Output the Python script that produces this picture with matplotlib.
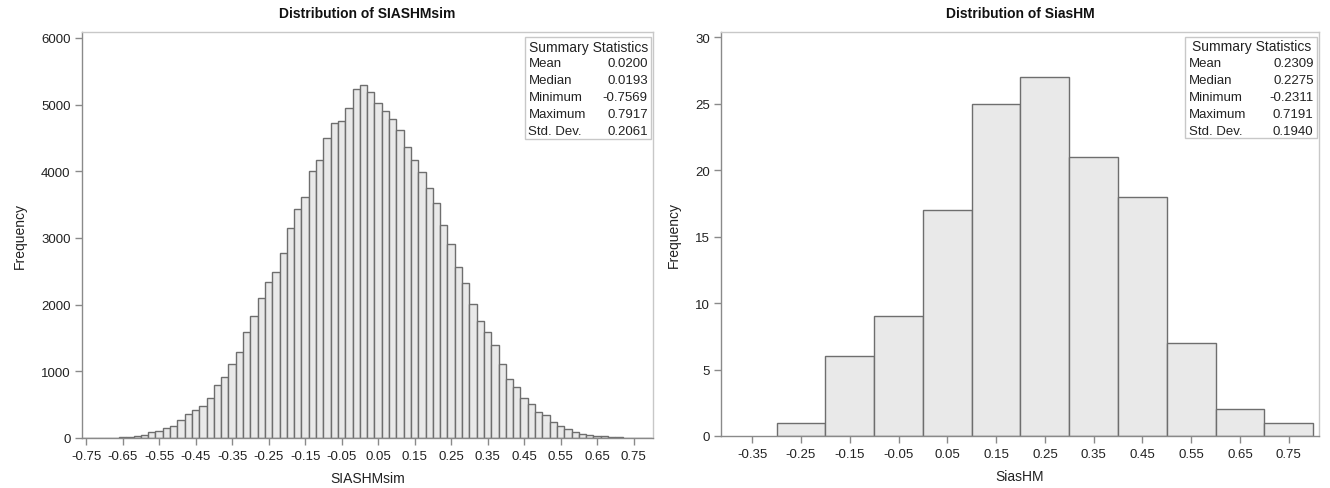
"""
Two SAS-style histograms: simulated SIASHMsim vs. observed SiasHM,
each with a summary-statistics inset.
"""

import matplotlib
matplotlib.use("Agg")
import matplotlib.pyplot as plt
import matplotlib.patches as mpatches
import numpy as np

plt.rcParams["font.family"] = ["Liberation Sans", "DejaVu Sans"]

# --- left panel: simulated distribution, bin width 0.02 ---
SIM_EDGES = np.round(np.arange(-0.76, 0.8001, 0.02), 2)
SIM_COUNTS = [
    1, 1, 2, 3, 5, 10, 20, 30, 45, 85,
    105, 150, 180, 265, 360, 420, 480, 595, 790, 920,
    1105, 1285, 1585, 1835, 2095, 2345, 2490, 2775, 3155, 3440,
    3615, 4010, 4170, 4500, 4725, 4755, 4945, 5235,
    5300, 5185, 5025, 4900, 4785, 4625, 4360, 4175, 3990, 3745,
    3520, 3190, 2905, 2570, 2330, 2015, 1760, 1590, 1395, 1110,
    885, 770, 605, 515, 395, 345, 245, 180, 135, 85,
    60, 50, 35, 25, 20, 10, 5, 3, 1, 1,
]
SIM_TICKS = np.round(np.arange(-0.75, 0.7501, 0.1), 2)
SIM_STATS = [("Mean", "0.0200"), ("Median", "0.0193"), ("Minimum", "-0.7569"),
             ("Maximum", "0.7917"), ("Std. Dev.", "0.2061")]

# --- right panel: observed distribution, bin width 0.1 ---
OBS_EDGES = np.round(np.arange(-0.3, 0.8001, 0.1), 2)
OBS_COUNTS = [1, 6, 9, 17, 25, 27, 21, 18, 7, 2, 1]
OBS_TICKS = np.round(np.arange(-0.35, 0.7501, 0.1), 2)
OBS_STATS = [("Mean", "0.2309"), ("Median", "0.2275"), ("Minimum", "-0.2311"),
             ("Maximum", "0.7191"), ("Std. Dev.", "0.1940")]

FILL = "#e9e9e9"
EDGE = "#6e6e6e"
AXIS = "#8a8a8a"
WALL = "#c8c8c8"
TEXT = "#222222"
W, H = 1330, 489


def draw_hist(ax, edges, counts, ticks, xlim, ylim, yticks, title, xlabel, stats):
    edges = np.asarray(edges)
    centers = (edges[:-1] + edges[1:]) / 2
    width = edges[1] - edges[0]
    ax.bar(centers, counts, width=width, facecolor=FILL, edgecolor=EDGE,
           linewidth=1.0, zorder=2)
    ax.set_xlim(*xlim)
    ax.set_ylim(*ylim)
    ax.set_xticks(ticks)
    ax.set_xticklabels([f"{t:.2f}" for t in ticks])
    ax.set_yticks(yticks)
    ax.tick_params(axis="both", colors=AXIS, labelcolor=TEXT, labelsize=9.5,
                   length=5, width=1.0, direction="out", pad=3)
    ax.tick_params(axis="x", pad=4)
    for side in ("left", "bottom"):
        ax.spines[side].set_color(AXIS)
        ax.spines[side].set_linewidth(1.0)
    for side in ("top", "right"):
        ax.spines[side].set_color(WALL)
        ax.spines[side].set_linewidth(1.0)
    ax.set_title(title, fontsize=10, fontweight="bold", color="#111111", pad=11)
    ax.set_xlabel(xlabel, fontsize=10, color=TEXT, labelpad=6)
    ax.set_ylabel("Frequency", fontsize=10, color=TEXT, labelpad=10)

    # summary statistics inset (axes fraction coords)
    x0, x1, y0, y1 = 0.776, 0.997, 0.737, 0.988
    ax.add_patch(mpatches.Rectangle((x0, y0), x1 - x0, y1 - y0,
                                    transform=ax.transAxes, facecolor="white",
                                    edgecolor=WALL, linewidth=1.0, zorder=5))
    row = (y1 - y0) / 6
    ax.text((x0 + x1) / 2, y1 - row * 0.55, "Summary Statistics",
            transform=ax.transAxes, ha="center", va="center",
            fontsize=10, color=TEXT, zorder=6)
    for i, (name, val) in enumerate(stats, start=1):
        y = y1 - row * (i + 0.55)
        ax.text(x0 + 0.006, y, name, transform=ax.transAxes, ha="left",
                va="center", fontsize=9.5, color=TEXT, zorder=6)
        ax.text(x1 - 0.006, y, val, transform=ax.transAxes, ha="right",
                va="center", fontsize=9.5, color=TEXT, zorder=6)


fig = plt.figure(figsize=(W / 100, H / 100), dpi=100)

ax1 = fig.add_axes([81.7 / W, 50 / H, 571.3 / W, 405.7 / H])
draw_hist(ax1, SIM_EDGES, SIM_COUNTS, SIM_TICKS, (-0.762, 0.803), (0, 6085),
          np.arange(0, 6001, 1000), "Distribution of SIASHMsim", "SIASHMsim",
          SIM_STATS)

ax2 = fig.add_axes([721 / W, 52 / H, 598 / W, 404 / H])
draw_hist(ax2, OBS_EDGES, OBS_COUNTS, OBS_TICKS, (-0.414, 0.812), (0, 30.4),
          np.arange(0, 31, 5), "Distribution of SiasHM", "SiasHM", OBS_STATS)

fig.savefig("out.png", dpi=100, facecolor="white")
plt.close(fig)
